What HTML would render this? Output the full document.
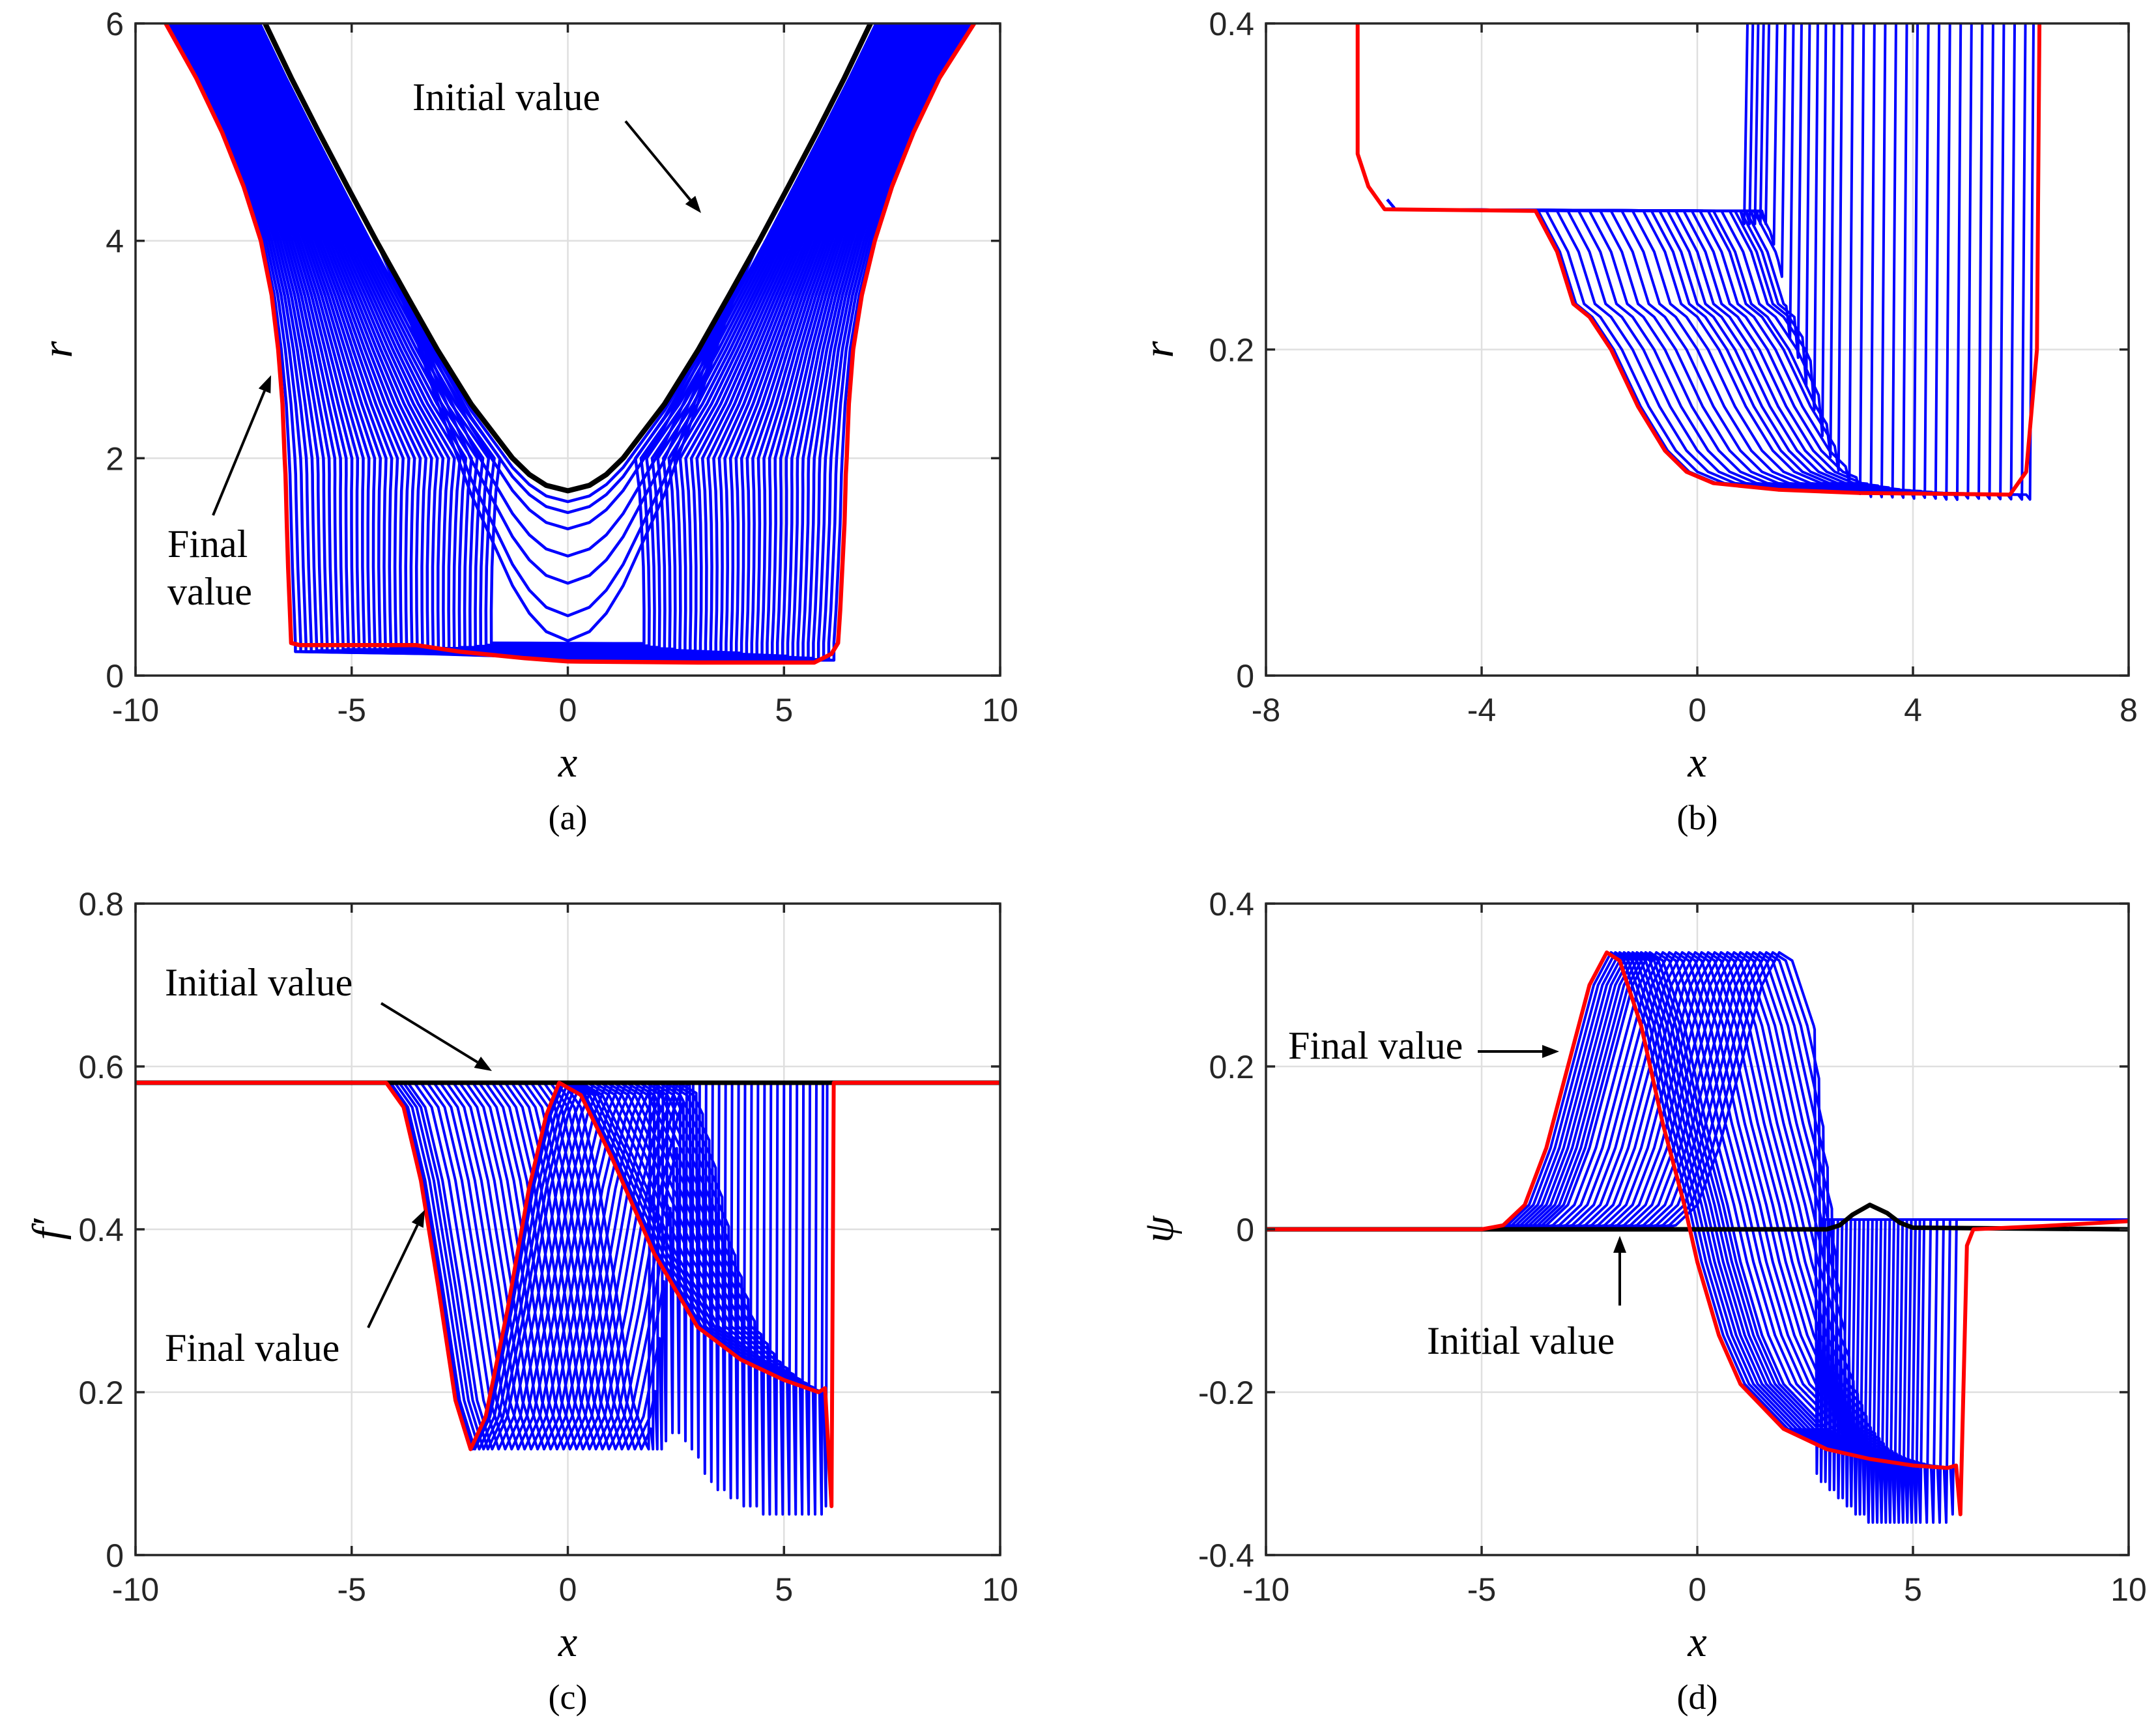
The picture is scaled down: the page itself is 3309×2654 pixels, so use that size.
<!DOCTYPE html>
<html><head><meta charset="utf-8"><style>
html,body{margin:0;padding:0;background:#fff;}
svg{display:block;}
.tk{font-family:"Liberation Sans",sans-serif;font-size:50px;fill:#262626;}
.sf{font-family:"Liberation Serif",serif;fill:#000;}
</style></head><body>
<svg id="fig" xmlns="http://www.w3.org/2000/svg" width="3309" height="2654" viewBox="0 0 3309 2654">
<rect x="0" y="0" width="3309" height="2654" fill="#fff"/>
</svg>
<script>
// ---------- data ----------
// panel (a): wall positions at common r levels
const aLevels=[6,5.5,5,4.5,4,3.5,3,2.5,2,1.85,1.7,1.4,1.0,0.6,0.3];
const aBlackLeft=[-7,-6.4,-5.76,-5.1,-4.43,-3.73,-3.02,-2.24,-1.28,-1.33,-1.38,-1.43,-1.48,-1.5,-1.5];
const aRedLeft=[-9.3,-8.6,-8.0,-7.5,-7.1,-6.85,-6.7,-6.6,-6.55,-6.53,-6.52,-6.5,-6.47,-6.43,-6.4];
const aRedRight=[9.4,8.6,8.0,7.5,7.1,6.8,6.6,6.5,6.45,6.43,6.42,6.4,6.35,6.3,6.25];
const aBlack=[[-7,6],[-6.4,5.5],[-5.76,5],[-5.1,4.5],[-4.43,4],[-3.73,3.5],[-3.02,3],[-2.24,2.5],[-1.28,2],[-0.89,1.85],[-0.5,1.75],[0,1.7],[0.5,1.75],[0.89,1.85],[1.28,2],[2.24,2.5],[3.02,3],[3.73,3.5],[4.43,4],[5.1,4.5],[5.76,5],[6.4,5.5],[7,6]];
const aRedBottom=[[-6.4,0.3],[-6.2,0.28],[-3.5,0.28],[-2.5,0.22],[-1,0.16],[0,0.13],[3,0.12],[5.7,0.12],[6.1,0.2],[6.25,0.3]];
const aT=[0.002,0.004,0.007,0.01,0.014,0.02,0.03,0.055,0.08,0.105,0.13,0.155,0.18,0.205,0.23,0.255,0.28,0.305,0.33,0.355,0.38,0.405,0.43,0.455,0.48,0.505,0.53,0.555,0.58,0.605,0.63,0.655,0.68,0.705,0.73,0.755,0.78,0.805,0.83,0.855,0.88,0.905,0.93,0.955,0.98];
const aBottom=[1.6,1.5,1.35,1.1,0.85,0.55,0.32,0.3,0.28,0.27,0.27,0.26,0.26,0.26,0.25,0.25,0.25,0.25,0.25,0.25,0.25,0.25,0.25,0.25,0.25,0.25,0.25,0.24,0.24,0.24,0.24,0.24,0.24,0.24,0.24,0.24,0.23,0.23,0.23,0.23,0.23,0.22,0.22,0.22,0.22];
// panel (b)
const bBaseX=[-5.7,-3.0,-2.6,-2.3,-2.0,-1.6,-1.1,-0.6,-0.2,0.3,1.5,3,5.8];
const bBaseY=[0.285,0.285,0.26,0.228,0.22,0.2,0.165,0.138,0.125,0.118,0.114,0.112,0.111];
const bRight=[0.9,1.0,1.1,1.2,1.3,1.45,1.6,1.75,1.9,2.05,2.2,2.35,2.5,2.65,2.85,3.05,3.25,3.45,3.65,3.85,4.05,4.25,4.45,4.65,4.85,5.05,5.25,5.45,5.65,5.85,6.05,6.2];
const bShift=[4.5,4.45,4.4,4.3,4.25,4.15,4.05,3.9,3.8,3.7,3.6,3.45,3.3,3.2,3.05,2.9,2.75,2.6,2.45,2.3,2.15,2.0,1.8,1.6,1.4,1.2,1.0,0.8,0.6,0.4,0.2,0.05];
const bDip=[0.008,0.008,0.008,0.008,0.008,0.008,0.01,0.02,0.025,0.03,0.03,0.025,0.02,0.015,0.01,0.01,0.008,0.007,0.006,0.005,0.005,0.004,0.004,0.004,0.004,0.003,0.003,0.003,0.003,0.003,0.003,0.003];
const bRed=[[-6.3,0.42],[-6.3,0.32],[-6.1,0.3],[-5.8,0.286],[-3.0,0.285],[-2.6,0.26],[-2.3,0.228],[-2.0,0.22],[-1.6,0.2],[-1.1,0.165],[-0.6,0.138],[-0.2,0.125],[0.3,0.118],[1.5,0.114],[3,0.112],[5.8,0.111],[6.1,0.125],[6.3,0.2],[6.35,0.42]];
// panel (c)
const cBaseX=[-10,-4.2,-3.8,-3.4,-3.0,-2.6,-2.25,-1.9,-1.4,-0.9,-0.5,-0.2,0.3,1.0,2.0,3.0,4.0,5.0,5.8];
const cBaseY=[0.58,0.58,0.55,0.46,0.33,0.19,0.13,0.17,0.3,0.45,0.54,0.58,0.565,0.49,0.37,0.28,0.24,0.215,0.2];
const cRight=[1.9,2.0,2.1,2.2,2.3,2.45,2.6,2.75,2.9,3.05,3.2,3.35,3.5,3.65,3.8,3.95,4.1,4.25,4.4,4.55,4.7,4.85,5.0,5.15,5.3,5.45,5.6,5.75,5.9,6.0];
const cShift=[4.1,3.95,3.8,3.65,3.5,3.35,3.2,3.05,2.9,2.75,2.6,2.45,2.3,2.15,2.0,1.85,1.7,1.55,1.4,1.25,1.1,0.95,0.8,0.65,0.5,0.4,0.3,0.2,0.1,0.05];
const cMin=[0.13,0.13,0.13,0.13,0.14,0.15,0.15,0.14,0.13,0.12,0.1,0.09,0.08,0.08,0.07,0.07,0.06,0.06,0.06,0.05,0.05,0.05,0.05,0.05,0.05,0.05,0.05,0.05,0.05,0.06];
const cBlack=[[-10,0.58],[10,0.58]];
const cRed=[[-10,0.58],[-4.2,0.58],[-3.8,0.55],[-3.4,0.46],[-3.0,0.33],[-2.6,0.19],[-2.25,0.13],[-1.9,0.17],[-1.4,0.3],[-0.9,0.45],[-0.5,0.54],[-0.2,0.58],[0.3,0.565],[1.0,0.49],[2.0,0.37],[3.0,0.28],[4.0,0.24],[5.0,0.215],[5.8,0.2],[5.95,0.205],[6.1,0.06],[6.15,0.58],[10,0.58]];
// panel (d)
const dBaseX=[-10,-5,-4.5,-4,-3.5,-3,-2.5,-2.1,-1.8,-1.3,-0.8,-0.3,0,0.5,1,2,3,4,5,5.8];
const dBaseY=[0,0,0.005,0.03,0.1,0.2,0.3,0.34,0.33,0.25,0.13,0.03,-0.04,-0.13,-0.19,-0.245,-0.27,-0.282,-0.29,-0.293];
const dRight=[2.8,2.9,3.0,3.1,3.2,3.3,3.4,3.5,3.6,3.7,3.8,3.9,4.0,4.1,4.2,4.3,4.4,4.5,4.6,4.7,4.8,4.9,5.0,5.1,5.2,5.35,5.5,5.65,5.8,5.95];
const dShift=[4.0,3.85,3.7,3.55,3.4,3.25,3.1,2.95,2.8,2.65,2.5,2.35,2.2,2.05,1.9,1.75,1.6,1.45,1.3,1.15,1.0,0.9,0.8,0.7,0.6,0.5,0.4,0.3,0.2,0.1];
const dMin=[-0.30,-0.31,-0.31,-0.32,-0.32,-0.33,-0.33,-0.34,-0.34,-0.35,-0.35,-0.35,-0.36,-0.36,-0.36,-0.36,-0.36,-0.36,-0.36,-0.36,-0.36,-0.36,-0.36,-0.36,-0.36,-0.36,-0.36,-0.36,-0.36,-0.35];
const dBlack=[[-10,0],[3,0],[3.3,0.005],[3.6,0.018],[4,0.03],[4.4,0.02],[4.7,0.008],[5,0.002],[10,0]];
const dRed=[[-10,0],[-5,0],[-4.5,0.005],[-4,0.03],[-3.5,0.1],[-3,0.2],[-2.5,0.3],[-2.1,0.34],[-1.8,0.33],[-1.3,0.25],[-0.8,0.13],[-0.3,0.03],[0,-0.04],[0.5,-0.13],[1,-0.19],[2,-0.245],[3,-0.27],[4,-0.282],[5,-0.29],[5.8,-0.293],[6.0,-0.29],[6.1,-0.35],[6.25,-0.02],[6.4,0],[8,0.004],[10,0.01]];
// ticks
const xTicks10=[-10,-5,0,5,10];
const xTicks8=[-8,-4,0,4,8];
const aYTicks=[0,2,4,6];
const bYTicks=[0,0.2,0.4];
const cYTicks=[0,0.2,0.4,0.6,0.8];
const dYTicks=[-0.4,-0.2,0,0.2,0.4];

// ---------- drawing ----------
const NS='http://www.w3.org/2000/svg';
const svg=document.getElementById('fig');
function mk(tag,parent){const e=document.createElementNS(NS,tag);parent.appendChild(e);return e;}
function interp(xs,ys,x){if(x<=xs[0])return ys[0];for(let i=1;i<xs.length;i++){if(x<=xs[i]){const t=(x-xs[i-1])/(xs[i]-xs[i-1]);return ys[i-1]+t*(ys[i]-ys[i-1]);}}return ys[ys.length-1];}

function makePanel(id,L,R,T,B,xr,yr,xt,yt){
  const g=mk('g',svg);
  
  
  const sx=v=>L+(v-xr[0])/(xr[1]-xr[0])*(R-L);
  const sy=v=>B-(v-yr[0])/(yr[1]-yr[0])*(B-T);
  const cp=mk('clipPath',g);cp.setAttribute('id','clip-'+id);
  const cr=mk('rect',cp);cr.setAttribute('x',L);cr.setAttribute('y',T);cr.setAttribute('width',R-L);cr.setAttribute('height',B-T);
  const grid=mk('g',g);
  
  
  xt.forEach(v=>{const l=mk('line',grid);l.setAttribute('x1',sx(v));l.setAttribute('x2',sx(v));l.setAttribute('y1',T);l.setAttribute('y2',B);l.setAttribute('stroke','#dfdfdf');l.setAttribute('stroke-width','2.5');
    
    });
  yt.forEach(v=>{const l=mk('line',grid);l.setAttribute('x1',L);l.setAttribute('x2',R);l.setAttribute('y1',sy(v));l.setAttribute('y2',sy(v));l.setAttribute('stroke','#dfdfdf');l.setAttribute('stroke-width','2.5');
    
    });
  const plot=mk('g',g);plot.setAttribute('clip-path','url(#clip-'+id+')');
  
  
  return {g,plot,sx,sy,L,R,T,B,xt,yt};
}
function finishPanel(P,xlabs,ylabs,ylabText,cap,ylabX){
  const {g,sx,sy,L,R,T,B,xt,yt}=P;
  const ax=mk('g',g);
  
  
  const r=mk('rect',ax);r.setAttribute('x',L);r.setAttribute('y',T);r.setAttribute('width',R-L);r.setAttribute('height',B-T);r.setAttribute('fill','none');r.setAttribute('stroke','#262626');r.setAttribute('stroke-width','3.5');
  xt.forEach((v,i)=>{
    [[B,B-14],[T,T+14]].forEach(p=>{const l=mk('line',ax);l.setAttribute('x1',sx(v));l.setAttribute('x2',sx(v));l.setAttribute('y1',p[0]);l.setAttribute('y2',p[1]);l.setAttribute('stroke','#262626');l.setAttribute('stroke-width','3.5');});
    const t=mk('text',ax);t.setAttribute('class','tk');t.setAttribute('x',sx(v));t.setAttribute('y',B+70);t.setAttribute('text-anchor','middle');t.textContent=xlabs[i];
    
    
  });
  yt.forEach((v,i)=>{
    [[L,L+14],[R,R-14]].forEach(p=>{const l=mk('line',ax);l.setAttribute('y1',sy(v));l.setAttribute('y2',sy(v));l.setAttribute('x1',p[0]);l.setAttribute('x2',p[1]);l.setAttribute('stroke','#262626');l.setAttribute('stroke-width','3.5');});
    const t=mk('text',ax);t.setAttribute('class','tk');t.setAttribute('x',L-18);t.setAttribute('y',sy(v)+18);t.setAttribute('text-anchor','end');t.textContent=ylabs[i];
    
    
  });
  const cx=(L+R)/2;
  const xl=mk('text',g);xl.setAttribute('class','sf');xl.setAttribute('x',cx);xl.setAttribute('y',B+155);xl.setAttribute('text-anchor','middle');xl.setAttribute('font-size','66');xl.setAttribute('font-style','italic');xl.textContent='x';
  
  
  const yl=mk('text',g);yl.setAttribute('class','sf');yl.setAttribute('font-size','66');yl.setAttribute('font-style','italic');yl.setAttribute('text-anchor','middle');
  const ym=(T+B)/2;yl.setAttribute('transform','translate('+ylabX+','+ym+') rotate(-90)');yl.textContent=ylabText;
  
  
  const c=mk('text',g);c.setAttribute('class','sf');c.setAttribute('font-size','54');c.setAttribute('x',cx);c.setAttribute('y',B+236);c.setAttribute('text-anchor','middle');c.textContent=cap;
  
  
}
function line(P,pts,color,w,name){
  const p=mk('polyline',P.plot);
  p.setAttribute('points',pts.map(q=>P.sx(q[0]).toFixed(1)+','+P.sy(q[1]).toFixed(1)).join(' '));
  p.setAttribute('fill','none');p.setAttribute('stroke',color);p.setAttribute('stroke-width',w);p.setAttribute('stroke-linejoin','round');
  
  
}
function text(str,x,y,size,name){
  const t=mk('text',svg);t.setAttribute('class','sf');t.setAttribute('x',x);t.setAttribute('y',y);t.setAttribute('font-size',size);t.textContent=str;
  
  
}
function arrow(x1,y1,x2,y2,name){
  const g=mk('g',svg);
  
  
  const a=Math.atan2(y2-y1,x2-x1),hl=26,hw=10;
  const bx=x2-hl*Math.cos(a),by=y2-hl*Math.sin(a);
  const l=mk('line',g);l.setAttribute('x1',x1);l.setAttribute('y1',y1);l.setAttribute('x2',bx);l.setAttribute('y2',by);l.setAttribute('stroke','#000');l.setAttribute('stroke-width','4');
  const p=mk('polygon',g);
  const px=-Math.sin(a)*hw,py=Math.cos(a)*hw;
  p.setAttribute('points',[x2+','+y2,(bx+px)+','+(by+py),(bx-px)+','+(by-py)].join(' '));p.setAttribute('fill','#000');
}

// Panel a
const A=makePanel('a',208,1535,36,1037,[-10,10],[0,6],xTicks10,aYTicks);
aT.forEach((t,k)=>{const yb=aBottom[k];
  if(yb>0.31){
    // early curves: initial shape with its bottom pulled down
    const pts=aBlack.map(p=>[p[0],p[1]-(1.7-yb)*Math.max(0,1-(p[1]-1.7)/2)]);
    line(A,pts,'#0000ff',4.5,'blue-curve-a');
    return;
  }
  const lv=[],lx=[],rx=[];
  for(let i=0;i<aLevels.length;i++){
    lv.push(aLevels[i]);
    lx.push(Math.min(0,aBlackLeft[i]+(aRedLeft[i]-aBlackLeft[i])*t));
    rx.push(Math.max(0,-aBlackLeft[i]+(aRedRight[i]+aBlackLeft[i])*t));
  }
  const left=[],right=[];
  for(let i=0;i<lv.length;i++){if(lv[i]>yb){left.push([lx[i],lv[i]]);right.unshift([rx[i],lv[i]]);}}
  const rl=lv.slice().reverse(),rlx=lx.slice().reverse(),rrx=rx.slice().reverse();
  const xlb=interp(rl,rlx,yb),xrb=interp(rl,rrx,yb);
  const pts=left.concat([[xlb,yb],[xlb*0.5,yb-0.02*t],[0,yb-0.06*t],[xrb*0.6,yb-0.08*t],[xrb,yb-0.08*t]]).concat(right);
  line(A,pts,'#0000ff',4.5,'blue-curve-a');});
line(A,aBlack,'#000',8,'initial-curve-a');
const aRedPts=[];
for(let i=0;i<aLevels.length;i++)aRedPts.push([aRedLeft[i],aLevels[i]]);
aRedBottom.forEach(p=>aRedPts.push(p));
for(let i=aLevels.length-1;i>=0;i--)aRedPts.push([aRedRight[i],aLevels[i]]);
line(A,aRedPts,'#ff0000',6.5,'final-curve-a');
finishPanel(A,xTicks10.map(String),aYTicks.map(String),'r','(a)',110);

// Panel b
const Bp=makePanel('b',1943,3267,36,1037,[-8,8],[0,0.4],xTicks8,bYTicks);
bRight.forEach((R,k)=>{const s=bShift[k];
  const pts=[[-5.75,0.292],[-5.6,0.286]];
  for(let j=1;j<bBaseX.length;j++){const x=bBaseX[j]+s;if(x<R-0.1)pts.push([x,bBaseY[j]]);}
  const yR=interp(bBaseX,bBaseY,R-0.1-s);
  pts.push([R-0.1,yR]);pts.push([R-0.03,yR-bDip[k]]);pts.push([R+0.04,0.42]);
  line(Bp,pts,'#0000ff',4,'blue-curve-b');});
line(Bp,bRed,'#ff0000',6,'final-curve-b');
finishPanel(Bp,xTicks8.map(String),['0','0.2','0.4'],'r','(b)',1800);

// Panel c
const C=makePanel('c',208,1535,1387,2387,[-10,10],[0,0.8],xTicks10,cYTicks);
cRight.forEach((R,k)=>{const s=cShift[k];
  const pts=[[-10,0.58]];
  for(let j=1;j<cBaseX.length;j++){const x=cBaseX[j]+s;if(x<R-0.08)pts.push([x,cBaseY[j]]);}
  const yR=interp(cBaseX,cBaseY,R-0.08-s);
  pts.push([R-0.08,yR]);pts.push([R-0.03,cMin[k]]);pts.push([R,0.58]);pts.push([10,0.58]);
  line(C,pts,'#0000ff',4,'blue-curve-c');});
line(C,cBlack,'#000',7,'initial-curve-c');
line(C,cRed,'#ff0000',6,'final-curve-c');
finishPanel(C,xTicks10.map(String),['0','0.2','0.4','0.6','0.8'],'f\u2032','(c)',95);

// Panel d
const D=makePanel('d',1943,3267,1387,2387,[-10,10],[-0.4,0.4],xTicks10,dYTicks);
dRight.forEach((R,k)=>{const s=dShift[k];
  const pts=[[-10,0]];
  for(let j=1;j<dBaseX.length;j++){const x=dBaseX[j]+s;if(x<R-0.08)pts.push([x,dBaseY[j]]);}
  const yR=interp(dBaseX,dBaseY,R-0.08-s);
  pts.push([R-0.08,yR]);pts.push([R-0.03,dMin[k]]);pts.push([R+0.06,0.012]);pts.push([10,0.012]);
  line(D,pts,'#0000ff',4,'blue-curve-d');});
line(D,dBlack,'#000',7,'initial-curve-d');
line(D,dRed,'#ff0000',6,'final-curve-d');
finishPanel(D,xTicks10.map(String),['-0.4','-0.2','0','0.2','0.4'],'ψ','(d)',1800);

// annotations
text('Initial value',633,169,60,'annotation-initial-a');
arrow(960,186,1076,327,'arrow-initial-a');
text('Final',257,855,60,'annotation-final-a');
text('value',257,928,60,'annotation-final-a-2');
arrow(327,791,416,576,'arrow-final-a');
text('Initial value',253,1528,60,'annotation-initial-c');
arrow(585,1540,755,1644,'arrow-initial-c');
text('Final value',253,2089,60,'annotation-final-c');
arrow(565,2038,652,1857,'arrow-final-c');
text('Final value',1977,1625,60,'annotation-final-d');
arrow(2268,1614,2393,1614,'arrow-final-d');
text('Initial value',2190,2078,60,'annotation-initial-d');
arrow(2486,2004,2486,1897,'arrow-initial-d');
</script>
</body></html>
